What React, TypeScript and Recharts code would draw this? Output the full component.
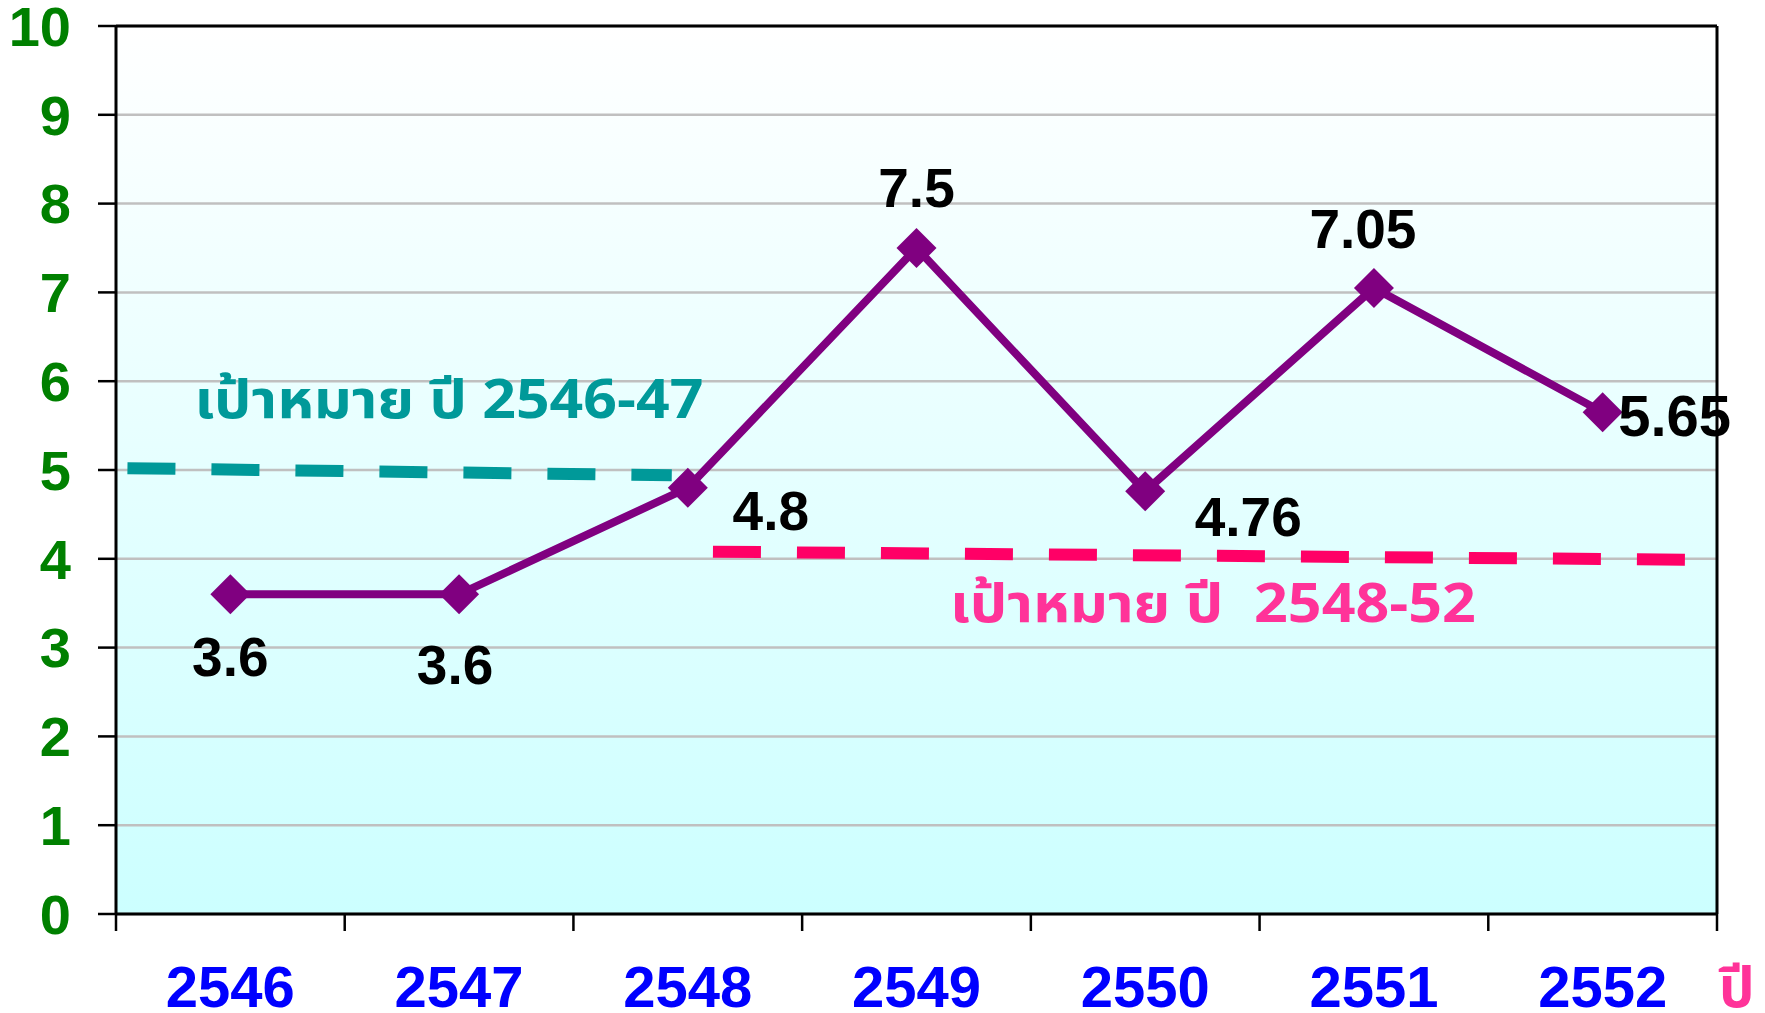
import React from "react";
import { LineChart, Line, XAxis, YAxis, CartesianGrid, ReferenceLine, LabelList } from "recharts";

// ---- data ----
const years = ["2546", "2547", "2548", "2549", "2550", "2551", "2552"];
const values = [3.6, 3.6, 4.8, 7.5, 4.76, 7.05, 5.65];
const yTicks = [0, 1, 2, 3, 4, 5, 6, 7, 8, 9, 10];
const target4647 = [
  { x: 0.05, y: 5.02 },
  { x: 2.43, y: 4.94 },
];
const target4852 = [
  { x: 2.61, y: 4.08 },
  { x: 6.865, y: 3.99 },
];
const target4647Label = "เป้าหมาย ปี 2546-47";
const target4852Label = "เป้าหมาย ปี  2548-52";
const axisUnit = "ปี";

const data = years.map((year, i) => ({ x: i + 0.5, year, value: values[i] }));
const xTicks: number[] = [];
for (let i = 0; i <= years.length; i++) {
  xTicks.push(i);
  if (i < years.length) xTicks.push(i + 0.5);
}

// ---- styles ----
const NUM_FONT = "'Liberation Sans', Arial, sans-serif";
const THAI_FONT = "'Noto Sans Thai', 'Noto Sans Thai UI', Tahoma, 'Noto Sans', 'DejaVu Sans', sans-serif";
const PURPLE = "#800080";

// per-point label placement (relative to the point centre)
const labelOffsets = [
  { dx: 0, dy: 63 },
  { dx: -4, dy: 71 },
  { dx: 83, dy: 23 },
  { dx: 0, dy: -60 },
  { dx: 103, dy: 26 },
  { dx: -11, dy: -59 },
  { dx: 72, dy: 3 },
];

const Diamond = (props: any) => {
  const { cx, cy, index } = props;
  if (cx == null || cy == null) return null;
  const r = 20;
  return (
    <path
      key={`d-${index}`}
      d={`M${cx},${cy - r} L${cx + r},${cy} L${cx},${cy + r} L${cx - r},${cy} Z`}
      fill={PURPLE}
    />
  );
};

const ValueLabel = (props: any) => {
  const { x, y, value, index } = props;
  const o = labelOffsets[index] || { dx: 0, dy: -50 };
  return (
    <text
      x={x + o.dx}
      y={y + o.dy}
      textAnchor="middle"
      dominantBaseline="central"
      fontFamily={NUM_FONT}
      fontWeight="bold"
      fontSize={index === 6 ? 58 : 55}
      fill="#000"
    >
      {value}
    </text>
  );
};

const XTick = (props: any) => {
  const { x, y, payload } = props;
  const v = payload.value;
  if (Number.isInteger(v)) {
    return (
      <g>
        <line x1={x} y1={y} x2={x} y2={y + 17} stroke="#000" strokeWidth={2.5} />
        {v === years.length && (
          <text
            x={x + 2}
            y={y + 93}
            textAnchor="start"
            fontFamily={THAI_FONT}
            fontWeight="bold"
            fontSize={56}
            fill="#FF3399"
          >
            {axisUnit}
          </text>
        )}
      </g>
    );
  }
  const idx = Math.floor(v);
  return (
    <text
      x={x}
      y={y + 93}
      textAnchor="middle"
      fontFamily={NUM_FONT}
      fontWeight="bold"
      fontSize={58}
      fill="#0000FF"
    >
      {years[idx]}
    </text>
  );
};

const TealNote = (props: any) => {
  const { x, y, index } = props;
  if (index !== 0) return null;
  return (
    <text
      x={x + 67}
      y={y - 50}
      fontFamily={THAI_FONT}
      fontWeight="bold"
      fontSize={54}
      fill="#009999"
      textLength={509}
      lengthAdjust="spacingAndGlyphs"
    >
      {target4647Label}
    </text>
  );
};

const PinkNote = (props: any) => {
  const { x, y, index } = props;
  if (index !== 0) return null;
  return (
    <text
      x={x + 237}
      y={y + 70}
      fontFamily={THAI_FONT}
      fontWeight="bold"
      fontSize={54}
      fill="#FF3399"
      textLength={526}
      lengthAdjust="spacingAndGlyphs"
      style={{ whiteSpace: "pre" }}
    >
      {target4852Label}
    </text>
  );
};

export default function App() {
  return (
    <div style={{ position: "absolute", left: 0, top: 0, width: 1765, height: 1013, background: "#fff" }}>
      <LineChart
        width={1765}
        height={1013}
        data={data}
        margin={{ top: 26, right: 48, left: 16, bottom: 19 }}
      >
        <defs>
          <linearGradient id="bg" x1="0" y1="0" x2="0" y2="1">
            <stop offset="0%" stopColor="#FFFFFF" />
            <stop offset="100%" stopColor="#CCFFFF" />
          </linearGradient>
        </defs>
        <CartesianGrid vertical={false} stroke="#C0C0C0" strokeWidth={2.5} fill="url(#bg)" fillOpacity={1} />
        <XAxis
          type="number"
          dataKey="x"
          domain={[0, years.length]}
          ticks={xTicks}
          interval={0}
          tickLine={false}
          tickSize={0}
          tickMargin={0}
          height={80}
          axisLine={{ stroke: "#000", strokeWidth: 3 }}
          tick={<XTick />}
          allowDataOverflow
        />
        <YAxis
          type="number"
          domain={[0, 10]}
          ticks={yTicks}
          interval={0}
          width={100}
          tickSize={18}
          tickMargin={27}
          tickLine={{ stroke: "#000", strokeWidth: 2.5 }}
          axisLine={{ stroke: "#000", strokeWidth: 3 }}
          tick={{ fill: "#008000", fontSize: 56, fontWeight: "bold", fontFamily: NUM_FONT }}
        />
        <ReferenceLine y={10} stroke="#000" strokeWidth={3} />
        <ReferenceLine x={years.length} stroke="#000" strokeWidth={3} />
        <Line
          data={target4647}
          dataKey="y"
          stroke="#009999"
          strokeWidth={12}
          strokeDasharray="48 36"
          dot={false}
          activeDot={false}
          isAnimationActive={false}
          label={<TealNote />}
        />
        <Line
          data={target4852}
          dataKey="y"
          stroke="#FF0066"
          strokeWidth={12}
          strokeDasharray="48 36"
          dot={false}
          activeDot={false}
          isAnimationActive={false}
          label={<PinkNote />}
        />
        <Line
          dataKey="value"
          stroke={PURPLE}
          strokeWidth={8}
          dot={<Diamond />}
          activeDot={false}
          isAnimationActive={false}
        >
          <LabelList dataKey="value" content={<ValueLabel />} />
        </Line>
      </LineChart>
    </div>
  );
}
